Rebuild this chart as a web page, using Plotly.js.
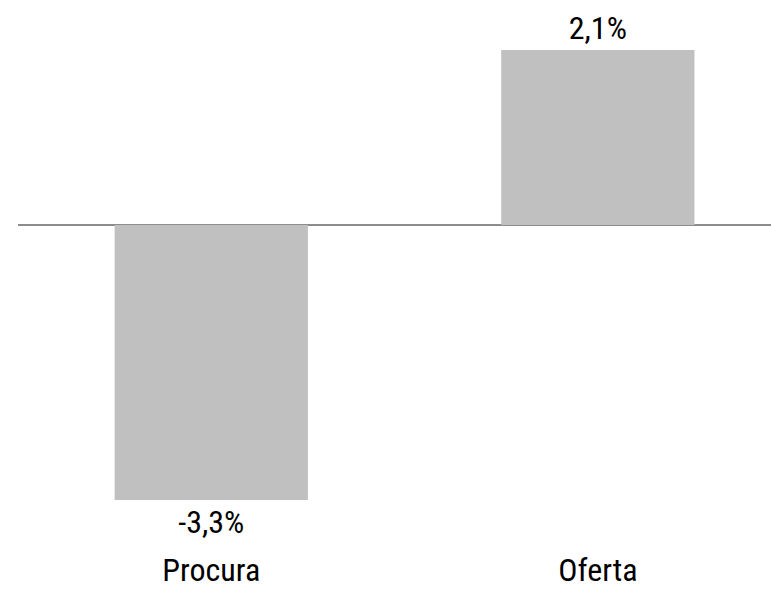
<!DOCTYPE html>
<html>
<head>
<meta charset="utf-8">
<script src="https://cdn.plot.ly/plotly-3.0.1.min.js"></script>
<style>html,body{margin:0;padding:0;background:#fff;}#chart{width:771px;height:593px;}</style>
</head>
<body>
<div id="chart"></div>
<script>
const categories = ["Procura", "Oferta"];
const values = [-3.3, 2.1];
const valueLabels = ["-3,3%", "2,1%"];

const font = "'Roboto Condensed', 'Liberation Sans', sans-serif";

Plotly.newPlot("chart", [{
  type: "bar",
  x: categories,
  y: values,
  text: valueLabels,
  textposition: "outside",
  textfont: {family: font, size: 32, color: "#000", weight: 400},
  marker: {color: "#c0c0c0"},
  width: 0.5,
  cliponaxis: false,
  hoverinfo: "none"
}], {
  width: 771, height: 593,
  margin: {l: 18, r: 0, t: 0, b: 48},
  paper_bgcolor: "#fff", plot_bgcolor: "#fff",
  showlegend: false,
  font: {family: font, size: 32, color: "#000", weight: 400},
  xaxis: {range: [-0.5, 1.448], showgrid: false, showline: false, ticks: "", zeroline: false,
          tickfont: {family: font, size: 32, color: "#000", weight: 400}, ticklabelstandoff: 3},
  yaxis: {range: [-3.84, 2.7], showgrid: false, showticklabels: false, ticks: "",
          zeroline: true, zerolinecolor: "#8c8c8c", zerolinewidth: 2, showline: false}
}, {staticPlot: true});
</script>
</body>
</html>
